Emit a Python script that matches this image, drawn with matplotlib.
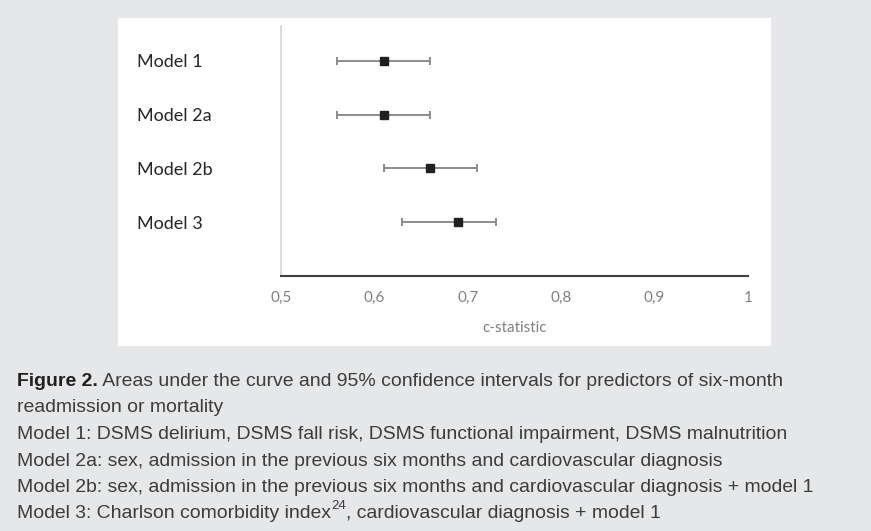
import matplotlib.pyplot as plt
from matplotlib.patches import Rectangle

# c-statistic (AUC) with 95% CI per model
models = ['Model 1', 'Model 2a', 'Model 2b', 'Model 3']
auc = [0.61, 0.61, 0.66, 0.69]
ci_low = [0.56, 0.56, 0.61, 0.63]
ci_high = [0.66, 0.66, 0.71, 0.73]

x_ticks = [0.5, 0.6, 0.7, 0.8, 0.9, 1.0]
x_tick_labels = ['0,5', '0,6', '0,7', '0,8', '0,9', '1']

caption_title = 'Figure 2.'
caption_first = ' Areas under the curve and 95% confidence intervals for predictors of six-month'
caption_lines = [
    'readmission or mortality',
    'Model 1: DSMS delirium, DSMS fall risk, DSMS functional impairment, DSMS malnutrition',
    'Model 2a: sex, admission in the previous six months and cardiovascular diagnosis',
    'Model 2b: sex, admission in the previous six months and cardiovascular diagnosis + model 1',
]
last_line = ['Model 3: Charlson comorbidity index', '24', ', cardiovascular diagnosis + model 1']

W, H = 871, 531
fig = plt.figure(figsize=(W / 100, H / 100), dpi=100, facecolor='#e6e7e8')

# white chart panel
fig.add_artist(Rectangle((118 / W, 1 - 346 / H), 653 / W, 328.5 / H,
                         transform=fig.transFigure, facecolor='white',
                         edgecolor='none', zorder=0))

ax = fig.add_axes([281 / W, 1 - 276 / H, 467 / W, 250 / H])
ax.set_facecolor('white')

ypos = list(range(len(models), 0, -1))
xerr = [[a - l for a, l in zip(auc, ci_low)], [h - a for a, h in zip(auc, ci_high)]]
ax.errorbar(auc, ypos, xerr=xerr, fmt='none', ecolor='#858585',
            elinewidth=1.3, capsize=3, capthick=1.3, zorder=2)
ax.plot(auc, ypos, 's', color='#231f20', ms=6, zorder=3)

ax.set_xlim(0.5, 1.0)
ax.set_ylim(0, 4.65)

for s in ['top', 'right']:
    ax.spines[s].set_visible(False)
ax.spines['left'].set_color('#d9d9d9')
ax.spines['left'].set_linewidth(1.3)
ax.spines['bottom'].set_color('#404040')
ax.spines['bottom'].set_linewidth(1.5)

ax.set_yticks(ypos, models, fontsize=13, color='#262626', family='Lato')
for lbl in ax.get_yticklabels():
    lbl.set_ha('left')
ax.tick_params(axis='y', length=0, pad=104)

ax.set_xticks(x_ticks, x_tick_labels, fontsize=11, color='#808080', family='Lato')
ax.tick_params(axis='x', length=0, pad=11)
ax.set_xlabel('c-statistic', fontsize=11, color='#808080', family='Lato', labelpad=11)

# caption
fs = 13.95
cap_font = dict(family='Liberation Sans', fontsize=fs, color='#3c3c3c')
baselines = [386, 412.5, 439, 465.5, 492, 518.5]
x0 = 17 / W

t = fig.text(x0, 1 - baselines[0] / H, caption_title, va='baseline',
             fontweight='bold', family='Liberation Sans', fontsize=fs, color='#231f20')
fig.add_artist(plt.Annotation(caption_first, xy=(1, 1 - baselines[0] / H),
                              xycoords=(t, 'figure fraction'), va='baseline', **cap_font))
for i, line in enumerate(caption_lines):
    fig.text(x0, 1 - baselines[i + 1] / H, line, va='baseline', **cap_font)

yb = 1 - baselines[5] / H
t1 = fig.text(x0, yb, last_line[0], va='baseline', **cap_font)
t2 = plt.Annotation(last_line[1], xy=(1, yb), xycoords=(t1, 'figure fraction'),
                    xytext=(0.5, 6.5), textcoords='offset points', va='baseline',
                    family='Liberation Sans', fontsize=9.5, color='#3c3c3c')
fig.add_artist(t2)
t3 = plt.Annotation(last_line[2], xy=(1, yb), xycoords=(t2, 'figure fraction'),
                    va='baseline', **cap_font)
fig.add_artist(t3)

fig.savefig('out.png', dpi=100, facecolor=fig.get_facecolor())
